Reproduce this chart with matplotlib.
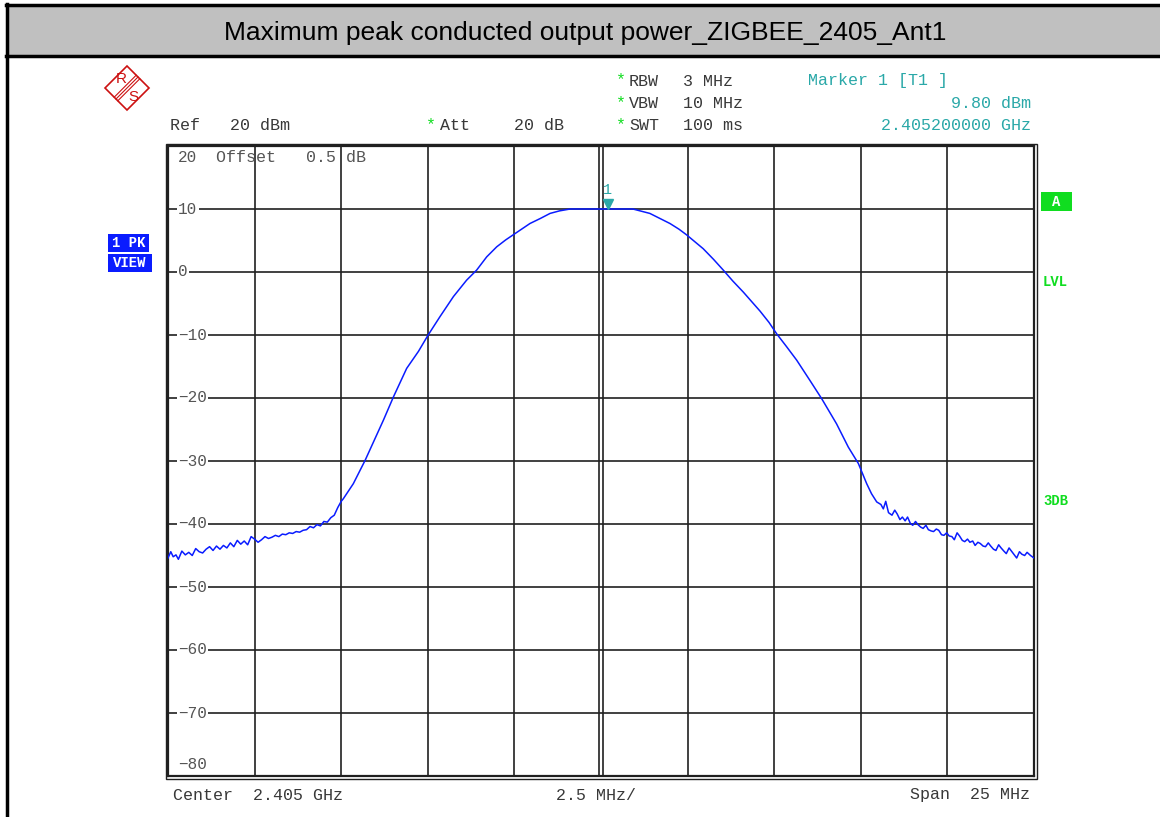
import numpy as np
import matplotlib
matplotlib.use("Agg")
import matplotlib.pyplot as plt
from matplotlib.patches import Rectangle, Polygon
from matplotlib.lines import Line2D

# trace: offset from center (MHz) and level (dBm)
freq_mhz = [-12.5, -12.42, -12.35, -12.27, -12.2, -12.1, -12.0, -11.9, -11.8, -11.7,
            -11.6, -11.5, -11.4, -11.3, -11.2, -11.1, -11.0, -10.9, -10.8, -10.7,
            -10.6, -10.5, -10.4, -10.3, -10.2, -10.1, -10.0, -9.9, -9.8, -9.7,
            -9.6, -9.5, -9.4, -9.3, -9.2, -9.1, -9.0, -8.9, -8.8, -8.7,
            -8.6, -8.5, -8.4, -8.3, -8.2, -8.1, -8.0, -7.9, -7.8, -7.7,
            -7.6, -7.5, -7.44,
            -7.15, -6.81, -6.57, -6.28, -5.99, -5.61, -5.27, -4.99, -4.65, -4.26,
            -3.88, -3.59, -3.3, -3.01, -2.75, -2.48, -2.05, -1.75, -1.47, -1.2,
            -0.89, 0.0, 0.92,
            1.41, 1.7, 1.99, 2.25, 2.47, 2.95, 3.25, 3.53, 3.8, 4.11, 4.35,
            4.59, 4.85, 5.07, 5.35, 5.65, 6.03,
            6.37, 6.80, 7.14, 7.43, 7.67, 7.81, 7.96, 8.08, 8.15,
            8.22, 8.3, 8.4, 8.48, 8.55, 8.63, 8.7, 8.78, 8.85, 8.93,
            9.0, 9.08, 9.15, 9.23, 9.3, 9.38, 9.45, 9.53, 9.6, 9.68,
            9.75, 9.83, 9.9, 9.98, 10.05, 10.13, 10.2, 10.28, 10.35, 10.43,
            10.5, 10.58, 10.65, 10.73, 10.8, 10.88, 10.95, 11.03, 11.1, 11.18,
            11.25, 11.33, 11.4, 11.48, 11.55, 11.63, 11.7, 11.78, 11.85, 11.93,
            12.0, 12.08, 12.15, 12.23, 12.3, 12.4, 12.5]
level_dbm = [-45.4, -44.4, -45.2, -44.9, -45.6, -44.3, -44.9, -44.5, -45.0, -43.9,
             -44.4, -44.6, -44.0, -43.6, -44.2, -43.5, -44.0, -43.4, -43.8, -43.0,
             -43.6, -42.6, -43.2, -42.7, -43.3, -42.0, -42.4, -42.9, -42.5, -42.0,
             -42.3, -42.1, -41.8, -42.0, -41.6, -41.7, -41.4, -41.5, -41.2, -41.3,
             -41.0, -40.9, -40.4, -40.6, -40.1, -40.3, -39.6, -39.7, -39.0, -38.6,
             -37.4, -36.4, -36.0,
             -33.6, -29.9, -27.0, -23.5, -19.8, -15.3, -12.6, -10.0, -7.1, -3.9,
             -1.3, 0.3, 2.4, 4.0, 5.1, 6.1, 7.7, 8.5, 9.3, 9.7,
             10.0, 10.0, 10.0,
             9.3, 8.5, 7.7, 6.8, 5.9, 3.7, 2.0, 0.3, -1.4, -3.2, -4.7,
             -6.2, -8.0, -9.8, -11.8, -14.0, -17.2,
             -20.1, -24.1, -27.8, -30.4, -33.6, -35.2, -36.5, -36.9, -37.6,
             -36.4, -38.2, -38.6, -37.8, -38.4, -39.3, -38.9, -39.5, -38.9, -39.9,
             -40.2, -39.6, -40.1, -40.5, -40.7, -40.2, -40.9, -41.1, -41.2, -40.8,
             -41.0, -41.7, -41.8, -41.4, -41.9, -42.0, -42.5, -41.4, -41.9, -42.6,
             -42.8, -42.4, -42.9, -42.7, -43.4, -42.9, -43.1, -43.5, -43.6, -43.0,
             -43.5, -44.0, -44.2, -43.3, -43.8, -44.3, -44.7, -43.8, -44.3, -44.9,
             -45.4, -44.4, -44.8, -45.0, -44.5, -45.0, -45.4]

y_ticks = [20, 10, 0, -10, -20, -30, -40, -50, -60, -70, -80]
marker_mhz = 0.2

W, H = 1160, 817
MONO = "Liberation Mono"
GREY = "#383838"
TEAL = "#2aa8a8"
GREEN = "#10dd20"
BLUE = "#0a1cff"

fig = plt.figure(figsize=(11.6, 8.17), dpi=100)


def fx(x):
    return x / W


def fy(y):
    return 1 - y / H


def ftext(x, y, s, **kw):
    kw.setdefault("family", MONO)
    kw.setdefault("fontsize", 12)
    kw.setdefault("color", GREY)
    kw.setdefault("va", "center")
    fig.text(fx(x), fy(y), s, **kw)


def fline(xs, ys, **kw):
    fig.add_artist(Line2D([fx(v) for v in xs], [fy(v) for v in ys],
                          transform=fig.transFigure, **kw))


# header band
fig.add_artist(Rectangle((fx(7), fy(56)), fx(W) - fx(7), fy(5) - fy(56),
                         transform=fig.transFigure, facecolor="#c0c0c0",
                         edgecolor="none"))
fline([6, W], [5, 5], color="black", lw=2.5)
fline([6, W], [56, 56], color="black", lw=2.5)
fline([7, 7], [4, H], color="black", lw=2.5)
fig.text(fx(585), fy(33), "Maximum peak conducted output power_ZIGBEE_2405_Ant1",
         family="Liberation Sans", fontsize=19, ha="center", va="center")

# R&S logo
red = "#cc1111"
fig.add_artist(Polygon([(fx(105), fy(88)), (fx(127), fy(66)), (fx(149), fy(88)),
                        (fx(127), fy(110))], closed=True, transform=fig.transFigure,
                       facecolor="none", edgecolor=red, lw=1.2))
for d in (-1.8, 0.0, 1.8):
    fline([138 + d, 116 + d], [77 + d, 99 + d], color=red, lw=0.8)
ftext(121, 79, "R", family="Liberation Sans", fontsize=11, color=red, ha="center")
ftext(133, 97, "S", family="Liberation Sans", fontsize=11, color=red, ha="center")

# instrument settings
ftext(170, 126, "Ref   20 dBm")
ftext(426, 125, "*", color=GREEN)
ftext(440, 126, "Att")
ftext(514, 126, "20 dB")
for yy, a, b in [(81, "RBW", "3 MHz"), (104, "VBW", "10 MHz"), (126, "SWT", "100 ms")]:
    ftext(616, yy - 1, "*", color=GREEN)
    ftext(629, yy, a)
    ftext(683, yy, b)
ftext(808, 81, "Marker 1 [T1 ]", color=TEAL)
ftext(1031, 104, "9.80 dBm", color=TEAL, ha="right")
ftext(1031, 126, "2.405200000 GHz", color=TEAL, ha="right")

# side labels
for y0, y1, s, w in [(234, 252, "1 PK", 41), (254, 272, "VIEW", 44)]:
    fig.add_artist(Rectangle((fx(108), fy(y1)), fx(w), fy(y0) - fy(y1),
                             transform=fig.transFigure, facecolor=BLUE, edgecolor="none"))
    ftext(108 + w / 2, (y0 + y1) / 2, s, color="white", fontsize=10,
          fontweight="bold", ha="center")
fig.add_artist(Rectangle((fx(1041), fy(211)), fx(31), fy(192) - fy(211),
                         transform=fig.transFigure, facecolor=GREEN, edgecolor="none"))
ftext(1056.5, 201.5, "A", color="white", fontsize=10, fontweight="bold", ha="center")
ftext(1043, 282, "LVL", color=GREEN, fontsize=10, fontweight="bold")
ftext(1043, 501, "3DB", color=GREEN, fontsize=10, fontweight="bold")

# bottom line
ftext(173, 795, "Center  2.405 GHz")
ftext(556, 795, "2.5 MHz/")
ftext(1030, 795, "Span  25 MHz", ha="right")

# trace axes
ax = fig.add_axes([fx(168), fy(776), fx(1034) - fx(168), fy(146) - fy(776)])
ax.set_xlim(-12.5, 12.5)
ax.set_ylim(-80, 20)
ax.set_xticks([])
ax.set_yticks([])
for sp in ax.spines.values():
    sp.set_linewidth(1.6)
    sp.set_color("#202020")

for v in [-10, -7.5, -5, -2.5, 2.5, 5, 7.5, 10]:
    ax.axvline(v, color="#202020", lw=1.2, zorder=1)
# center line is drawn double
ax.axvline(-0.07, color="#202020", lw=1.2, zorder=1)
ax.axvline(0.07, color="#202020", lw=1.2, zorder=1)
for v in y_ticks[1:-1]:
    ax.axhline(v, color="#202020", lw=1.2, zorder=1)

# outer border line (double frame)
fig.add_artist(Rectangle((fx(165.5), fy(779)), fx(1037) - fx(165.5), fy(144) - fy(779),
                         transform=fig.transFigure, facecolor="none",
                         edgecolor="#202020", lw=1.0))

lab_tr = ax.get_yaxis_transform()
for v in y_ticks:
    s = str(v).replace("-", "\u2212")
    yv = v
    if v == 20:
        yv = 18.1
    elif v == -80:
        yv = -78.1
    ax.text(0.0115, yv, s, transform=lab_tr, family=MONO, fontsize=11.5, color="#555555",
            va="center", ha="left", zorder=3,
            bbox=dict(facecolor="white", edgecolor="none", pad=1.0))
ax.text(0.056, 18.1, "Offset   0.5 dB", transform=lab_tr, family=MONO, fontsize=12,
        color="#555555", va="center", ha="left", zorder=3)

ax.plot(freq_mhz, level_dbm, color=BLUE, lw=1.1, zorder=4)
ax.plot([marker_mhz], [10.8], marker="v", ms=7, color=TEAL, zorder=5, clip_on=False)
ax.text(marker_mhz, 13.0, "1", color=TEAL, family=MONO, fontsize=11, ha="center", va="center")

fig.savefig("out.png", dpi=100)
